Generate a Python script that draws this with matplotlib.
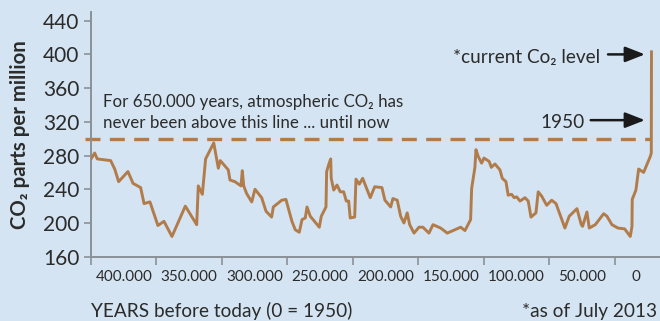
import matplotlib
matplotlib.use("Agg")
import matplotlib.pyplot as plt

# Atmospheric CO2 record, thousand years before 1950 (0 = 1950) and ppm
years_bp = [
    427.9, 425.1, 423.1, 412.9, 409.8, 406.8, 399.7, 395.8, 390.0, 387.4,
    382.9, 376.8, 372.2, 366.1, 355.9, 347.2, 346.0, 342.9, 340.4, 334.2,
    330.7, 329.2, 323.1, 321.8, 318.0, 313.4, 312.4, 311.3, 309.1, 305.2,
    302.7, 297.6, 294.3, 290.0, 288.7, 282.3, 279.1, 274.5, 272.0, 268.9,
    266.8, 264.3, 263.0, 260.5, 253.6, 252.1, 248.5, 248.0, 246.5, 244.9,
    244.5, 242.6, 240.1, 237.6, 235.0, 233.0, 231.2, 230.0, 226.6, 225.6,
    223.1, 220.5, 214.7, 211.3, 205.8, 203.5, 199.1, 197.4, 194.1, 191.5,
    189.0, 186.5, 184.6, 181.3, 177.5, 174.5, 169.9, 166.8, 161.0, 155.9,
    145.7, 142.4, 138.1, 137.3, 134.8, 134.0, 132.3, 129.7, 127.9, 123.9,
    122.3, 119.5, 115.7, 113.9, 111.1, 109.4, 106.8, 104.8, 102.9, 100.4,
    96.6, 94.1, 92.0, 88.2, 86.5, 83.9, 80.0, 76.2, 72.9, 66.1,
    62.8, 56.9, 53.6, 52.6, 49.3, 47.5, 42.9, 36.5, 34.0, 30.2,
    25.6, 20.5, 16.2, 14.9, 14.7, 11.9, 9.8, 6.0, 0.9, 0.15,
    0.0,
]
co2_ppm = [
    276, 283, 276, 274, 264, 249, 261, 247, 242, 223,
    225, 197, 202, 184, 220, 198, 244, 234, 276, 295,
    265, 274, 263, 251, 249, 244, 262, 244, 235, 225,
    240, 230, 214, 207, 219, 227, 228, 202, 192, 189,
    204, 206, 219, 208, 195, 208, 219, 261, 269, 276,
    253, 239, 245, 237, 237, 226, 226, 206, 207, 252,
    246, 253, 230, 243, 242, 227, 219, 229, 227, 208,
    200, 212, 198, 188, 195, 195, 188, 198, 194, 188,
    195, 191, 204, 241, 266, 287, 279, 271, 277, 273,
    266, 270, 263, 253, 249, 233, 234, 230, 231, 226,
    230, 226, 207, 212, 237, 232, 221, 227, 223, 194,
    208, 217, 198, 196, 213, 194, 198, 211, 208, 198,
    194, 193, 184, 196, 228, 239, 264, 260, 279, 283,
    403,
]

y_ticks = [160, 200, 240, 280, 320, 360, 400, 440]
x_separators = [427.9, 377.9, 327.9, 277.9, 227.9, 177.9, 127.9, 77.9, 27.9]
x_label_pos = [402.9, 352.9, 302.9, 252.9, 202.9, 152.9, 102.9, 52.9, 12.0]
x_tick_labels = ["400.000", "350.000", "300.000", "250.000", "200.000",
                 "150.000", "100.000", "50.000", "0"]
threshold_ppm = 300
current_ppm = 400
arrow_1950_ppm = 322

BG = "#d4e4f2"
LINE = "#b27c4a"
AXIS = "#8a9098"
TEXT = "#2b2b2b"
FONT = ["Lato", "DejaVu Sans"]

plt.rcParams["font.family"] = FONT

W, H = 660, 321
fig = plt.figure(figsize=(W / 100, H / 100), dpi=100, facecolor=BG)
ax = fig.add_axes([91 / W, (H - 256.7) / H, (W - 91) / W, (256.7 - 12) / H])
ax.set_facecolor(BG)

# threshold line
thr, = ax.plot([432.5, 0.0], [threshold_ppm, threshold_ppm], color=LINE,
               lw=2.4, clip_on=False, zorder=2, solid_capstyle="butt")
thr.set_dashes((4.5, 2.8))
thr.set_dash_capstyle("butt")

# CO2 record
ax.plot(years_bp, co2_ppm, color=LINE, lw=2.1, solid_joinstyle="round",
        zorder=3)

ax.set_xlim(427.9, -6.5)
ax.set_ylim(160, 450.3)

for side in ("top", "right"):
    ax.spines[side].set_visible(False)
for side in ("left", "bottom"):
    ax.spines[side].set_color(AXIS)
    ax.spines[side].set_linewidth(1.4)

ax.set_yticks(y_ticks)
ax.set_yticklabels([str(v) for v in y_ticks])
ax.tick_params(axis="y", length=5, width=1.2, color=AXIS, pad=3.5,
               labelsize=15, labelcolor=TEXT)

ax.set_xticks(x_separators)
ax.set_xticklabels([""] * len(x_separators))
ax.set_xticks(x_label_pos, minor=True)
ax.set_xticklabels(x_tick_labels, minor=True)
ax.tick_params(axis="x", which="major", length=5.8, width=1.2, color=AXIS)
ax.tick_params(axis="x", which="minor", length=0, pad=9.5, labelsize=11,
               labelcolor=TEXT)

# annotations
ax.text(418.5, 338.0, "For 650.000 years, atmospheric CO\u2082 has",
        fontsize=12.2, color=TEXT, ha="left", va="baseline")
ax.text(418.5, 312.4, "never been above this line ... until now",
        fontsize=12.2, color=TEXT, ha="left", va="baseline")

ax.text(39.3, 389.5, "*current Co\u2082 level", fontsize=13.7, color=TEXT,
        ha="right", va="baseline")
ax.text(50.8, 312.3, "1950", fontsize=13.7, color=TEXT,
        ha="right", va="baseline")

arrow_kw = dict(arrowstyle="-|>,head_length=1.2,head_width=0.47",
                color="#1a1a1a", lw=1.8, shrinkA=0, shrinkB=0)
ax.annotate("", xy=(5.0, current_ppm), xytext=(33.2, current_ppm),
            arrowprops=arrow_kw)
ax.annotate("", xy=(5.0, arrow_1950_ppm), xytext=(46.4, arrow_1950_ppm),
            arrowprops=arrow_kw)

fig.text(20 / W, (H - 134.5) / H, "CO\u2082 parts per million", rotation=90,
         fontsize=14.7, fontweight="bold", color=TEXT, ha="center",
         va="center")
fig.text(91 / W, (H - 316.7) / H, "YEARS before today (0 = 1950)",
         fontsize=13.7, color=TEXT, ha="left", va="baseline")
fig.text(657 / W, (H - 316.7) / H, "*as of July 2013",
         fontsize=13.7, color=TEXT, ha="right", va="baseline")

fig.savefig("out.png", dpi=100, facecolor=BG)
